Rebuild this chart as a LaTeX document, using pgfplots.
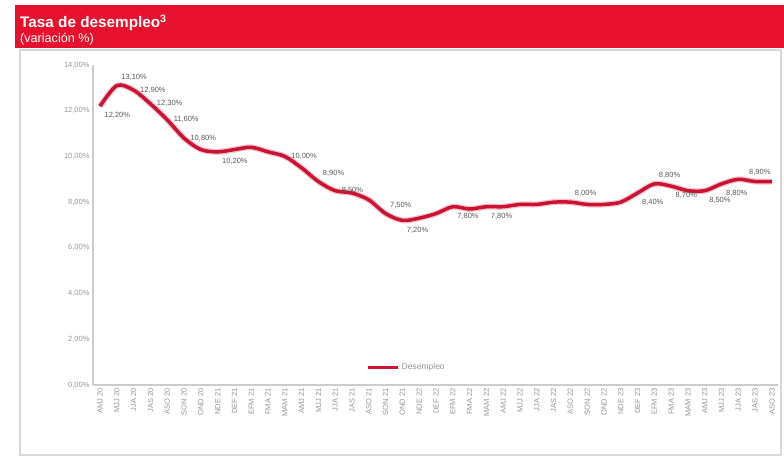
\documentclass[border=0pt]{standalone}
\usepackage{pgfplots}
\pgfplotsset{compat=1.18}
\usepackage{pgfplotstable}
\usepackage{fontspec}
\setmainfont{Liberation Sans}
\definecolor{hdr}{RGB}{232,17,45}
\definecolor{ln}{RGB}{204,18,52}
\definecolor{tk}{RGB}{150,150,150}
\definecolor{lb}{RGB}{90,90,90}
\pgfplotstableread{
x y
0 12.2
1 13.1
2 12.9
3 12.3
4 11.6
5 10.8
6 10.3
7 10.2
8 10.3
9 10.4
10 10.2
11 10.0
12 9.5
13 8.9
14 8.5
15 8.4
16 8.1
17 7.5
18 7.2
19 7.3
20 7.5
21 7.8
22 7.7
23 7.8
24 7.8
25 7.9
26 7.9
27 8.0
28 8.0
29 7.9
30 7.9
31 8.0
32 8.4
33 8.8
34 8.7
35 8.5
36 8.5
37 8.8
38 9.0
39 8.9
40 8.9
}\datatable
\pgfplotstableread{
x y l
2 12.9 {12,90\%}
3 12.3 {12,30\%}
4 11.6 {11,60\%}
5 10.8 {10,80\%}
11 10.0 {10,00\%}
14 8.5 {8,50\%}
}\rightlab
\pgfplotstableread{
x y l
1 13.1 {13,10\%}
13 8.9 {8,90\%}
17 7.5 {7,50\%}
28 8.0 {8,00\%}
33 8.8 {8,80\%}
}\abovelab
\pgfplotstableread{
x y l
40 8.9 {8,90\%}
}\endlab
\pgfplotstableread{
x y l
0 12.2 {12,20\%}
7 10.2 {10,20\%}
18 7.2 {7,20\%}
21 7.8 {7,80\%}
23 7.8 {7,80\%}
32 8.4 {8,40\%}
34 8.7 {8,70\%}
36 8.5 {8,50\%}
37 8.8 {8,80\%}
}\belowlab
\begin{document}
\begin{tikzpicture}[x=1pt,y=1pt]
\path[use as bounding box] (0,0) rectangle (784,458);
% frame
\draw[black!15, line width=1.2pt] (20,3) rectangle (781,408);
% header
\fill[hdr] (15,410) rectangle (784,453);
\node[anchor=base west, text=white, font=\fontsize{15.3}{17}\selectfont\bfseries, inner sep=0pt] at (20,430) {Tasa de desempleo\textsuperscript{3}};
\node[anchor=base west, text=white, font=\fontsize{12.6}{14}\selectfont, inner sep=0pt] at (20,415) {(variación \%)};
\begin{axis}[
  at={(93pt,73pt)}, anchor=south west,
  scale only axis, width=685pt, height=320pt,
  xmin=-0.42, xmax=40.36, ymin=0, ymax=14,
  axis lines=left,
  axis line style={black!20, line width=1.5pt},
  x axis line style={-}, y axis line style={-},
  ytick={0,2,...,14},
  yticklabels={{0,00\%},{2,00\%},{4,00\%},{6,00\%},{8,00\%},{10,00\%},{12,00\%},{14,00\%}},
  yticklabel style={font=\fontsize{7.5}{8}\selectfont, text=tk},
  xtick={0,...,40},
  xticklabels={AMJ 20,MJJ 20,JJA 20,JAS 20,ASO 20,SON 20,OND 20,NDE 21,DEF 21,EFM 21,FMA 21,MAM 21,AMJ 21,MJJ 21,JJA 21,JAS 21,ASO 21,SON 21,OND 21,NDE 22,DEF 22,EFM 22,FMA 22,MAM 22,AMJ 22,MJJ 22,JJA 22,JAS 22,ASO 22,SON 22,OND 22,NDE 23,DEF 23,EFM 23,FMA 23,MAM 23,AMJ 23,MJJ 23,JJA 23,JAS 23,ASO 23},
  xticklabel style={font=\fontsize{7.5}{8}\selectfont, text=tk, rotate=90, anchor=east},
  major tick length=0pt,
  clip=false,
  legend style={at={(0.458,0.056)}, anchor=center, draw=none, fill=none, font=\fontsize{8.5}{9}\selectfont, text=tk},
  legend image code/.code={\draw[ln, line width=3pt] (0pt,0pt) -- (30pt,0pt);},
  legend cell align=left,
]
\addplot[ln!25, line width=6pt, smooth, forget plot] table[x=x,y=y] {\datatable};
\addplot[ln, line width=3.5pt, smooth] table[x=x,y=y] {\datatable};
\addlegendentry{Desempleo}
\addplot[draw=none, forget plot, nodes near coords, point meta=explicit symbolic,
  every node near coord/.style={anchor=west, xshift=3pt, font=\fontsize{7.5}{8}\selectfont, text=lb}]
  table[x=x,y=y,meta=l] {\rightlab};
\addplot[draw=none, forget plot, nodes near coords, point meta=explicit symbolic,
  every node near coord/.style={anchor=south west, xshift=1pt, yshift=2pt, font=\fontsize{7.5}{8}\selectfont, text=lb}]
  table[x=x,y=y,meta=l] {\abovelab};
\addplot[draw=none, forget plot, nodes near coords, point meta=explicit symbolic,
  every node near coord/.style={anchor=south east, xshift=2pt, yshift=3pt, font=\fontsize{7.5}{8}\selectfont, text=lb}]
  table[x=x,y=y,meta=l] {\endlab};
\addplot[draw=none, forget plot, nodes near coords, point meta=explicit symbolic,
  every node near coord/.style={anchor=north west, xshift=1pt, yshift=-3pt, font=\fontsize{7.5}{8}\selectfont, text=lb}]
  table[x=x,y=y,meta=l] {\belowlab};
\end{axis}
\end{tikzpicture}
\end{document}
